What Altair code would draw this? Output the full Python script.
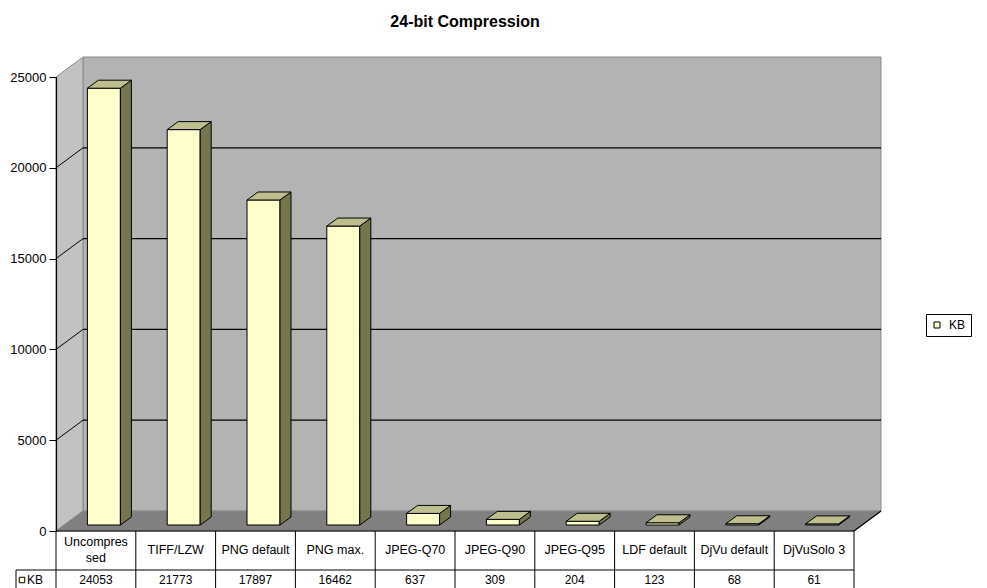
import altair as alt
import pandas as pd

# ---- data ---------------------------------------------------------------
CATEGORIES = ["Uncompressed", "TIFF/LZW", "PNG default", "PNG max.", "JPEG-Q70",
              "JPEG-Q90", "JPEG-Q95", "LDF default", "DjVu default", "DjVuSolo 3"]
KB = [24053, 21773, 17897, 16462, 637, 309, 204, 123, 68, 61]
SERIES = "KB"
Y_TICKS = [0, 5000, 10000, 15000, 20000, 25000]
GRID_VALUES = [5000, 10000, 15000, 20000]
# header cells that wrap inside their column
WRAPPED = {"Uncompressed": "Uncompres\nsed"}
TITLE = "24-bit Compression"

# ---- layout / style -----------------------------------------------------
FONT = "Liberation Sans"
W_TOTAL, H_TOTAL = 987, 588
LEFT, TOP = 56, 77
PLOT_W, PLOT_H = 798, 454
Y_MAX = 25000
N = len(CATEGORIES)

PX = N / PLOT_W        # x data units per pixel
PY = Y_MAX / PLOT_H    # y data units per pixel

WALL_DX, WALL_DY = 27 * PX, 20 * PY      # depth of the walls / floor
BAR_DX, BAR_DY = 8 * PX, 6 * PY          # bar front plane, set back from the axis plane
BAR_HALF = 16.5 * PX
DEPTH_DX, DEPTH_DY = 11 * PX, 8 * PY     # depth of each bar

FRONT_C, SIDE_C, TOP_C = "#FFFFCC", "#76764C", "#BEBE8E"
BACK_WALL_C, SIDE_WALL_C, FLOOR_C, EDGE_C = "#B3B3B3", "#C2C2C2", "#808080", "#8A8A8A"

xs = alt.Scale(domain=[0, N], nice=False, zero=False)
ys = alt.Scale(domain=[0, Y_MAX], nice=False, zero=False)
Y_AXIS = alt.Axis(values=Y_TICKS, title=None, format="d", grid=False, zindex=1,
                  domainColor="black", domainWidth=1.2, tickColor="black", tickSize=7,
                  tickWidth=1, labelFont=FONT, labelFontSize=13, labelColor="black",
                  labelPadding=3)


def X(f):
    return alt.X(f, type="quantitative", scale=xs, axis=None)


def Y(f):
    return alt.Y(f, type="quantitative", scale=ys, axis=Y_AXIS)


# ---- bar geometry -------------------------------------------------------
bars = pd.DataFrame({"category": CATEGORIES, "kb": KB, "series": SERIES})
bars["i"] = range(N)
bars["xl"] = bars["i"] + 0.5 + BAR_DX - BAR_HALF
bars["xr"] = bars["i"] + 0.5 + BAR_DX + BAR_HALF
bars["y0"] = BAR_DY
bars["y1"] = bars["kb"] + BAR_DY
bars["cx"] = bars["i"] + 0.5

side_rows, top_rows = [], []
for _, b in bars.iterrows():
    for k in (0, 1):
        side_rows.append({"category": b["category"],
                          "x": b["xr"] + k * DEPTH_DX,
                          "top": b["y1"] + k * DEPTH_DY,
                          "bottom": b["y0"] + k * DEPTH_DY})
        top_rows.append({"category": b["category"],
                         "y": b["y1"] + k * DEPTH_DY,
                         "xa": b["xl"] + k * DEPTH_DX,
                         "xb": b["xr"] + k * DEPTH_DX})
side_df = pd.DataFrame(side_rows)
top_df = pd.DataFrame(top_rows)

# ---- walls and floor ----------------------------------------------------
back_wall = alt.Chart(pd.DataFrame({"x": [WALL_DX], "x2": [N + WALL_DX],
                                    "y": [WALL_DY], "y2": [Y_MAX + WALL_DY]})).mark_rect(
    fill=BACK_WALL_C, stroke=EDGE_C, strokeWidth=1
).encode(x=X("x"), x2="x2", y=Y("y"), y2="y2")

left_wall = alt.Chart(pd.DataFrame({"x": [0, WALL_DX], "y": [Y_MAX, Y_MAX + WALL_DY],
                                    "y2": [0, WALL_DY]})).mark_area(
    orient="vertical", fill=SIDE_WALL_C, stroke=EDGE_C, strokeWidth=1
).encode(x=X("x"), y=Y("y"), y2="y2")

floor = alt.Chart(pd.DataFrame({"y": [0, WALL_DY], "x": [0, WALL_DX],
                                "x2": [N, N + WALL_DX]})).mark_area(
    orient="horizontal", fill=FLOOR_C, stroke=EDGE_C, strokeWidth=1
).encode(y=Y("y"), x=X("x"), x2="x2")

grid_df = pd.DataFrame({"v": GRID_VALUES})
grid_df["vb"] = grid_df["v"] + WALL_DY
grid_df["x0"] = 0.0
grid_df["xw"] = WALL_DX
grid_df["xe"] = N + WALL_DX

grid = alt.Chart(grid_df).mark_rule(color="black", strokeWidth=1.2).encode(
    x=X("xw"), x2="xe", y=Y("vb"))
diag = alt.Chart(grid_df).mark_rule(color="black", strokeWidth=1).encode(
    x=X("x0"), x2="xw", y=Y("v"), y2="vb")

floor_edge = alt.Chart(pd.DataFrame({"x": [N], "x2": [N + WALL_DX], "y": [0], "y2": [WALL_DY]})).mark_rule(
    color="black", strokeWidth=1.2
).encode(x=X("x"), x2="x2", y=Y("y"), y2="y2")

# ---- bars ---------------------------------------------------------------
front = alt.Chart(bars).mark_rect(stroke="black", strokeWidth=1).encode(
    x=X("xl"), x2="xr", y=Y("y1"), y2="y0",
    color=alt.Color("series:N", scale=alt.Scale(domain=[SERIES], range=[FRONT_C]),
                    legend=alt.Legend(title=None, orient="none", legendX=870, legendY=237,
                                      symbolType="square", symbolSize=36,
                                      symbolStrokeColor="black", symbolStrokeWidth=1,
                                      labelFont=FONT, labelFontSize=12, labelColor="black",
                                      labelOffset=6, strokeColor="black", padding=5)),
)

side = alt.Chart(side_df).mark_area(orient="vertical", fill=SIDE_C, stroke="black", strokeWidth=1).encode(
    x=X("x"), y=Y("top"), y2="bottom", detail="category:N")

top = alt.Chart(top_df).mark_area(orient="horizontal", fill=TOP_C, stroke="black", strokeWidth=1).encode(
    y=Y("y"), x=X("xa"), x2="xb", detail="category:N")

# ---- data table under the floor (row positions in pixels below the floor edge)
ROW_SPLIT_PX, ROW_END_PX = 39, 80
HEADER_PX, VALUE_PX, LINE_PX = 20, 49, 16
KB_CELL_X = -40 * PX

bars["header"] = [WRAPPED.get(c, c) for c in CATEGORIES]
bars["hy"] = [-(HEADER_PX - LINE_PX / 2 * h.count("\n") - 1) * PY for h in bars["header"]]
bars["vy"] = -VALUE_PX * PY

header = alt.Chart(bars).mark_text(font=FONT, fontSize=12.5, color="black", lineBreak="\n",
                                   lineHeight=LINE_PX, baseline="middle").encode(
    x=X("cx"), y=Y("hy"), text="header:N")

values = alt.Chart(bars).mark_text(font=FONT, fontSize=12, color="black", baseline="middle").encode(
    x=X("cx"), y=Y("vy"), text=alt.Text("kb:Q", format="d"))

col_df = pd.DataFrame({"b": list(range(N + 1))})
col_df["y"] = 0.0
col_df["y2"] = -ROW_END_PX * PY
vlines = alt.Chart(col_df).mark_rule(color="black", strokeWidth=1).encode(
    x=X("b"), y=Y("y"), y2="y2")

row_df = pd.DataFrame({"x": [0.0, KB_CELL_X], "x2": [float(N), float(N)],
                       "y": [0.0, -ROW_SPLIT_PX * PY]})
hlines = alt.Chart(row_df).mark_rule(color="black", strokeWidth=1).encode(
    x=X("x"), x2="x2", y=Y("y"))

kb_border = alt.Chart(pd.DataFrame({"x": [KB_CELL_X], "y": [-ROW_SPLIT_PX * PY],
                                    "y2": [-ROW_END_PX * PY]})).mark_rule(
    color="black", strokeWidth=1).encode(x=X("x"), y=Y("y"), y2="y2")

kb_cell = pd.DataFrame({"series": [SERIES], "sx": [-34 * PX], "tx": [-29 * PX],
                        "vy": [-VALUE_PX * PY]})
kb_symbol = alt.Chart(kb_cell).mark_point(shape="square", filled=True, fill=FRONT_C, stroke="black",
                                          strokeWidth=1, size=30, opacity=1).encode(
    x=X("sx"), y=Y("vy"))
kb_text = alt.Chart(kb_cell).mark_text(font=FONT, fontSize=12, color="black", align="left",
                                       baseline="middle").encode(
    x=X("tx"), y=Y("vy"), text="series:N")

chart = alt.layer(
    back_wall, left_wall, floor, grid, diag, floor_edge,
    front, side, top,
    header, values, vlines, hlines, kb_border, kb_symbol, kb_text,
).properties(
    width=PLOT_W, height=PLOT_H,
    title=alt.TitleParams(TITLE, font=FONT, fontSize=16, fontWeight="bold", color="black",
                          anchor="middle", baseline="bottom", offset=30, dx=10, dy=21),
    padding={"left": LEFT, "top": TOP, "right": W_TOTAL - LEFT - PLOT_W,
             "bottom": H_TOTAL - TOP - PLOT_H},
    autosize=alt.AutoSizeParams(type="none"),
).configure_view(strokeWidth=0)

chart.save("out.html", embed_options={"renderer": "svg", "actions": False})
